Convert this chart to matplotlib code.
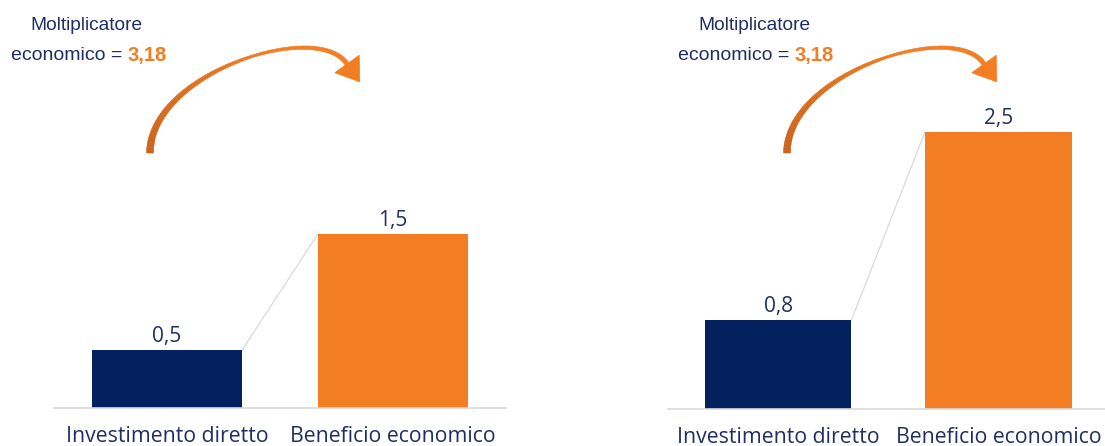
import numpy as np
import matplotlib.pyplot as plt
from matplotlib.patches import Polygon
from matplotlib.colors import to_rgb

# data
categories = ["Investimento diretto", "Beneficio economico"]
values_left = [0.5, 1.5]
values_right = [0.8, 2.5]
multiplier_left = "3,18"
multiplier_right = "3,18"

NAVY = "#03205f"
ORANGE = "#f37d22"
DARK_ORANGE = "#c9631c"
TEXT = "#1f2f63"
GRID = "#d9d9d9"
BAR_FONT = ["Open Sans", "DejaVu Sans"]
NOTE_FONT = ["Liberation Sans", "DejaVu Sans"]

W, H = 1105, 446
fig = plt.figure(figsize=(W / 100, H / 100), dpi=100)


def px_axes(x0, x1, ytop, ybot):
    # axes placed with pixel coords measured from the top left
    return fig.add_axes([x0 / W, (H - ybot) / H, (x1 - x0) / W, (ybot - ytop) / H])


def bar_panel(ax, values, ymax, xmax):
    x = np.arange(len(values))
    bars = ax.bar(x, values, width=0.665, color=[NAVY, ORANGE], zorder=2)
    ax.bar_label(bars, labels=[f"{v:.1f}".replace(".", ",") for v in values],
                 padding=2, fontsize=15, color=TEXT, family=BAR_FONT)
    # thin connector between the two bar tops
    b0, b1 = bars[0], bars[1]
    ax.plot([b0.get_x() + b0.get_width(), b1.get_x()],
            [b0.get_height(), b1.get_height()], color=GRID, lw=0.9, zorder=1)
    ax.set_xlim(-0.5, xmax)
    ax.set_ylim(0, ymax)
    ax.set_xticks(x, categories)
    ax.set_yticks([])
    ax.tick_params(axis="x", length=0, pad=13, labelsize=15.3, labelcolor=TEXT)
    for lab in ax.get_xticklabels():
        lab.set_family(BAR_FONT)
    for s in ["top", "left", "right"]:
        ax.spines[s].set_visible(False)
    ax.spines["bottom"].set_color(GRID)
    ax.spines["bottom"].set_linewidth(1.2)
    ax.patch.set_alpha(0)


axL = px_axes(54, 506, 130, 408)
bar_panel(axL, values_left, 278 / 116, 1.5)
axR = px_axes(668, 1105, 130, 409)
bar_panel(axR, values_right, 279 / 111, 1.484)

# overlay in pixel coords for the notes and arrows
ov = fig.add_axes([0, 0, 1, 1], zorder=5)
ov.set_xlim(0, W)
ov.set_ylim(H, 0)
ov.axis("off")


def curved_arrow(sx, sy):
    P = np.array([[0, 0], [0, -80], [167, -134], [197, -89]], float) + [sx, sy]
    t = np.linspace(0, 1, 90)[:, None]
    pts = (1 - t) ** 3 * P[0] + 3 * (1 - t) ** 2 * t * P[1] + 3 * (1 - t) * t ** 2 * P[2] + t ** 3 * P[3]
    d = np.gradient(pts, axis=0)
    d /= np.linalg.norm(d, axis=1)[:, None]
    nrm = np.c_[-d[:, 1], d[:, 0]]
    w = np.interp(t.ravel(), [0, 0.55, 1], [7, 2.5, 4.5]) / 2
    lft = pts + nrm * w[:, None]
    rgt = pts - nrm * w[:, None]
    c0, c1 = np.array(to_rgb(DARK_ORANGE)), np.array(to_rgb(ORANGE))
    for i in range(len(pts) - 1):
        col = c0 + (c1 - c0) * min(1.0, t[i, 0] * 1.6)
        ov.add_patch(Polygon([lft[i], lft[i + 1], rgt[i + 1], rgt[i]],
                             closed=True, fc=col, ec=col, lw=0.4))
    tip = pts[-1] + d[-1] * 22
    hn = nrm[-1] * 15
    ov.add_patch(Polygon([pts[-1] + hn, tip, pts[-1] - hn], closed=True,
                         fc=ORANGE, ec=ORANGE, lw=0.5))


def note(cx, left_x, mult):
    ov.text(cx, 25, "Moltiplicatore", ha="center", va="center",
            fontsize=13.8, color=TEXT, family=NOTE_FONT)
    t1 = ov.text(left_x, 56, "economico =", ha="left", va="center",
                 fontsize=14, color=TEXT, family=NOTE_FONT)
    ov.annotate(mult, xy=(1, 0), xycoords=t1, xytext=(4, 0), textcoords="offset points",
                ha="left", va="bottom", fontsize=14.5, color=ORANGE,
                fontweight="bold", family=NOTE_FONT)


note(86, 11, multiplier_left)
note(754.5, 678, multiplier_right)
curved_arrow(150, 153)
curved_arrow(787, 153)

fig.savefig("out.png", dpi=100)
